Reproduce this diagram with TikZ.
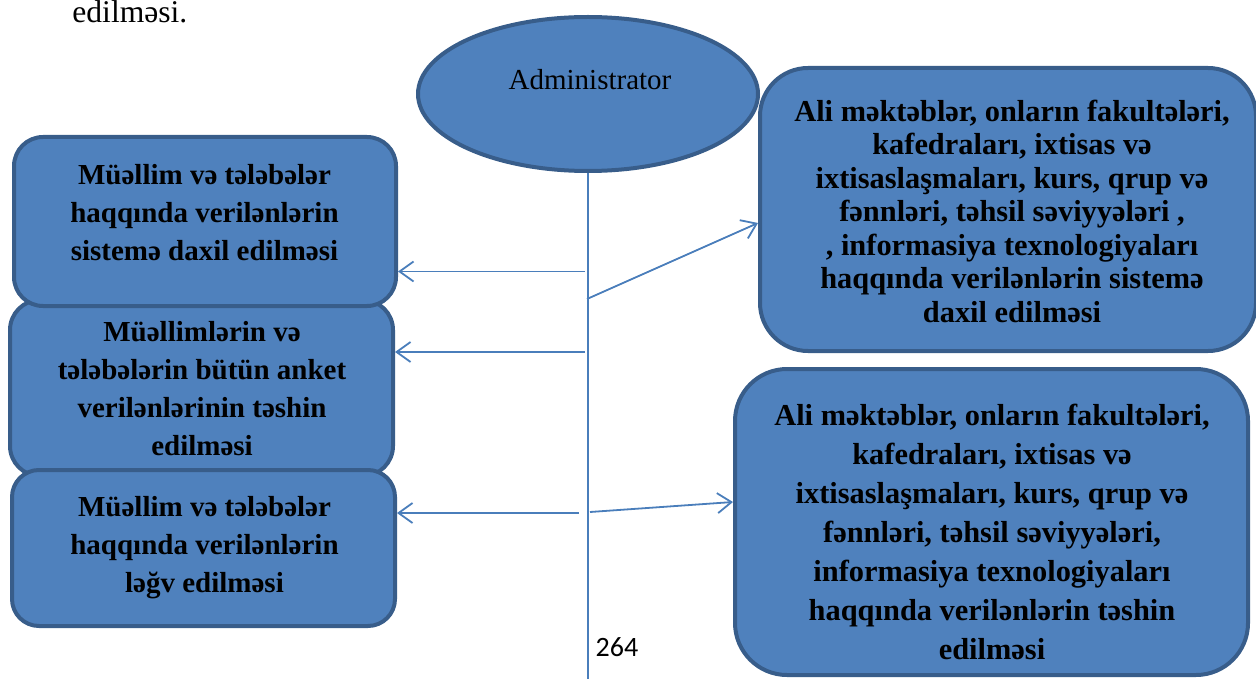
\documentclass[tikz,border=0pt]{standalone}
\usepackage{fontspec}
\setmainfont{Liberation Serif}
\newfontfamily\pagenofont{Carlito}
\usetikzlibrary{
  arrows.meta,
  shapes.geometric
}
\definecolor{adFill}{HTML}{4F81BD}
\definecolor{adEdge}{HTML}{385D8A}
\definecolor{adLine}{HTML}{4A7EBB}
\tikzset{
  adshape/.style={draw=adEdge, fill=adFill, line width=2pt, inner sep=0pt},
  taskbox/.style={adshape, rectangle},
  actor/.style={adshape, ellipse, minimum width=170pt, minimum height=77pt},
  tasktext/.style={font=\fontsize{14.5}{19}\selectfont\bfseries, align=center, inner sep=0pt},
  bigtext/.style={tasktext, font=\fontsize{15.2}{19.5}\selectfont\bfseries},
  plaintext/.style={font=\fontsize{14.5}{17}\selectfont, inner sep=0pt},
  conduit/.style={-{Straight Barb[length=7pt,width=10pt]}, line width=0.9pt, adLine},
  lifeline/.style={line width=0.9pt, adLine}
}

\begin{document}
\begin{tikzpicture}[x=0.5pt, y=-0.5pt]
  \useasboundingbox (0,0) rectangle (1256,679);
  % tail of the previous paragraph
  \node[plaintext, font=\fontsize{15.8}{19}\selectfont, anchor=base west] (prevline) at (72,23) {edilməsi.};

  % actor
  \node[actor] (admin) at (588,94) {};
  \node[plaintext] (admintxt) at (590,80) {Administrator};

  % left column (middle box lies under its neighbours)
  \node[taskbox, minimum width=191.5pt, minimum height=88pt, rounded corners=15pt] (grades) at (201.5,388) {};
  \node[taskbox, minimum width=191pt, minimum height=84.5pt, rounded corners=14.5pt] (addpeople) at (205,221.5) {};
  \node[taskbox, minimum width=191.5pt, minimum height=78pt, rounded corners=13.5pt] (delpeople) at (203.5,548) {};
  \node[tasktext] (addpeopletxt) at (204.5,212.5) {Müəllim və tələbələr\\haqqında verilənlərin\\sistemə daxil edilməsi};
  \node[tasktext] (gradestxt) at (202,388.5) {Müəllimlərin və\\tələbələrin bütün anket\\verilənlərinin təshin\\edilməsi};
  \node[tasktext] (delpeopletxt) at (204.5,548) {Müəllim və tələbələr\\haqqında verilənlərin\\ləğv edilməsi};

  % right column
  \node[taskbox, minimum width=248pt, minimum height=141.5pt, rounded corners=24pt] (adduni) at (1008,209.5) {};
  \node[taskbox, minimum width=256.5pt, minimum height=153pt, rounded corners=26pt] (edituni) at (991.5,522) {};
  \node[bigtext, font=\fontsize{15.2}{16.75}\selectfont\bfseries] (addunitxt) at (1012,211) {Ali məktəblər, onların fakultələri,\\kafedraları, ixtisas və\\ixtisaslaşmaları, kurs, qrup və\\fənnləri, təhsil səviyyələri ,\\, informasiya texnologiyaları\\haqqında verilənlərin sistemə\\daxil edilməsi};
  \node[bigtext] (editunitxt) at (992,532) {Ali məktəblər, onların fakultələri,\\kafedraları, ixtisas və\\ixtisaslaşmaları, kurs, qrup və\\fənnləri, təhsil səviyyələri,\\informasiya texnologiyaları\\haqqında verilənlərin təshin\\edilməsi};

  \node[plaintext, font=\pagenofont\fontsize{14}{16}\selectfont] (pageno) at (617,647) {264};

  % lifeline and messages
  \coordinate (lifeend) at (588,679);
  \draw[lifeline] (admin.south) -- (lifeend);
  \coordinate (s1) at (585,271.5);
  \coordinate (s2) at (585,352);
  \coordinate (s3) at (579,513);
  \coordinate (s4) at (587,299);
  \coordinate (s5) at (590,512);
  \draw[conduit] (s1) -- (s1 -| addpeople.east);
  \draw[conduit] (s2) -- (s2 -| grades.east);
  \draw[conduit] (s3) -- (s3 -| delpeople.east);
  \draw[conduit] (s4) -- ([yshift=-6.75pt]adduni.west);
  \draw[conduit] (s5) -- ([yshift=10pt]edituni.west);
\end{tikzpicture}
\end{document}
